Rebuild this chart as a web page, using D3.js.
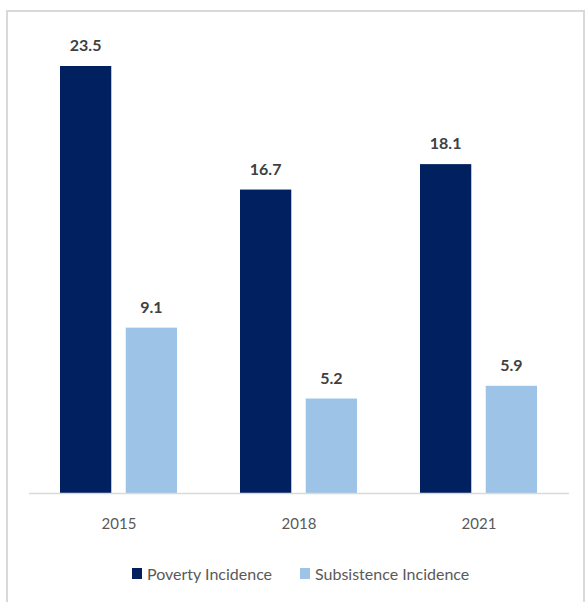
<!DOCTYPE html>
<html><head><meta charset="utf-8">
<script src="https://cdn.jsdelivr.net/npm/d3@7"></script>
<style>body{margin:0;background:#fff}svg{display:block}</style>
</head><body>
<script>
const categories = ["2015", "2018", "2021"];
const seriesNames = ["Poverty Incidence", "Subsistence Incidence"];
const poverty = [23.5, 16.7, 18.1];
const subsistence = [9.1, 5.2, 5.9];
const colors = ["#002060", "#9DC3E6"];

const W = 587, H = 602;
const svg = d3.select("body").append("svg").attr("width", W).attr("height", H);
svg.append("rect").attr("x", 7).attr("y", 11).attr("width", 577).attr("height", 600)
  .attr("fill", "none").attr("stroke", "#d9d9d9").attr("stroke-width", 2);

const x0 = d3.scaleBand().domain(categories).range([29, 569]).paddingInner(0).paddingOuter(0);
const x1 = d3.scaleBand().domain(seriesNames).range([31, 148]).paddingInner(0.22).paddingOuter(0);
const y = d3.scaleLinear().domain([0, 23.5]).range([493, 66]);

const data = categories.map((c, i) => ({cat: c, vals: [poverty[i], subsistence[i]]}));
const font = "Lato, 'Open Sans', sans-serif";

const g = svg.append("g");
data.forEach(d => {
  d.vals.forEach((v, j) => {
    const bx = x0(d.cat) + x1(seriesNames[j]);
    g.append("rect").attr("x", bx).attr("y", y(v)).attr("width", x1.bandwidth())
      .attr("height", y(0) - y(v)).attr("fill", colors[j]);
    g.append("text").attr("x", bx + x1.bandwidth() / 2).attr("y", y(v) - 15)
      .attr("text-anchor", "middle").attr("font-family", font).attr("font-weight", "bold")
      .attr("font-size", 16).attr("fill", "#404040").text(v.toFixed(1));
  });
});

svg.append("line").attr("x1", 29).attr("x2", 569).attr("y1", 493.5).attr("y2", 493.5)
  .attr("stroke", "#d9d9d9").attr("stroke-width", 1.5);

categories.forEach(c => {
  svg.append("text").attr("x", x0(c) + x0.bandwidth() / 2).attr("y", 529)
    .attr("text-anchor", "middle").attr("font-family", font).attr("font-size", 15)
    .attr("fill", "#595959").text(c);
});

const legX = [132, 300];
seriesNames.forEach((s, i) => {
  svg.append("rect").attr("x", legX[i]).attr("y", 568).attr("width", 10).attr("height", 11).attr("fill", colors[i]);
  svg.append("text").attr("x", legX[i] + 15).attr("y", 580).attr("font-family", font)
    .attr("font-size", 16).attr("fill", "#595959").text(s);
});
</script>
</body></html>
